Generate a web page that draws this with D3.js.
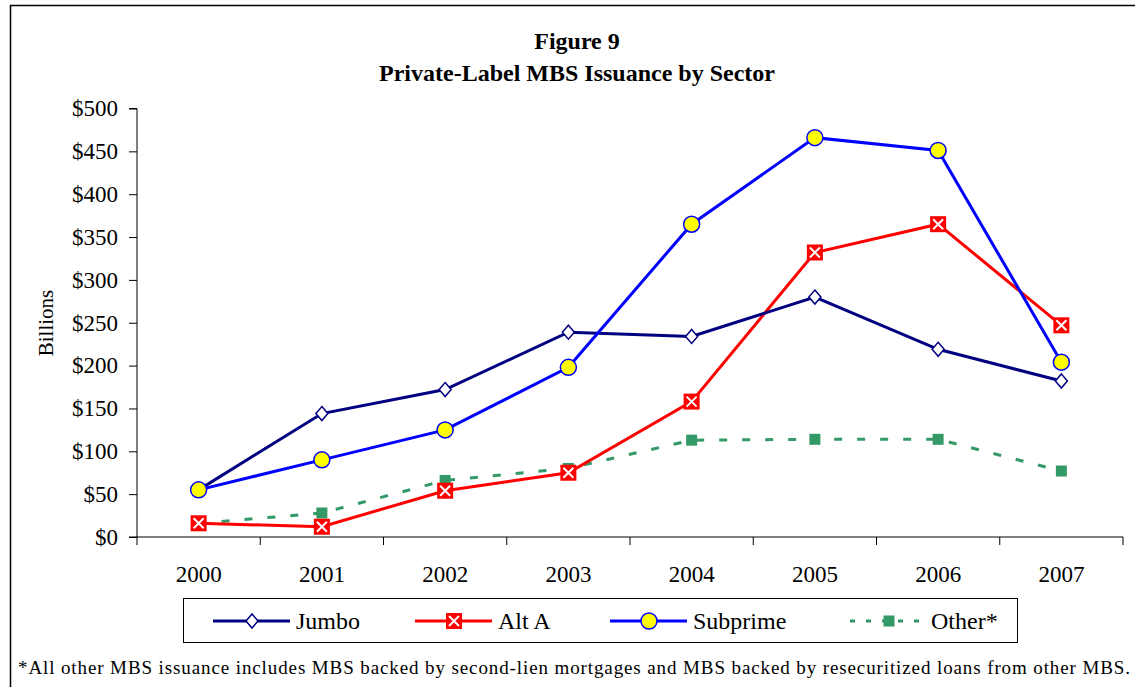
<!DOCTYPE html>
<html>
<head>
<meta charset="utf-8">
<script src="https://cdn.jsdelivr.net/npm/d3@7"></script>
<style>
  body { margin: 0; background: #fff; }
  svg { display: block; font-family: "Liberation Serif", "Times New Roman", serif; }
</style>
</head>
<body>
<svg width="1135" height="687"></svg>
<script>
var years = ["2000", "2001", "2002", "2003", "2004", "2005", "2006", "2007"];
var jumbo = [55, 144, 172, 239, 234, 280, 219, 182];
var altA = [16, 12, 54, 75, 158, 332, 365, 247];
var subprime = [55, 90, 125, 198, 365, 466, 451, 204];
var other = [16, 28, 66, 80, 113, 114, 114, 77];
var yTicks = [0, 50, 100, 150, 200, 250, 300, 350, 400, 450, 500];

var series = [
    {id: "Jumbo", values: jumbo, color: "#000080", marker: "diamond", dash: null},
    {id: "Alt A", values: altA, color: "#ff0000", marker: "xsquare", dash: null},
    {id: "Subprime", values: subprime, color: "#0000ff", marker: "circle", dash: null},
    {id: "Other*", values: other, color: "#339966", marker: "square", dash: "8,15"}
];

var svg = d3.select("svg");

// outer frame
svg.append("path")
    .attr("d", "M10.5,700 V5.5 H1140")
    .attr("fill", "none")
    .attr("stroke", "#000")
    .attr("stroke-width", 1.5);

var scaleX = d3.scaleBand().domain(years).range([137, 1123]).padding(0),
    scaleY = d3.scaleLinear().domain([0, 500]).range([537, 108.5]);

function cx(i) {
    return scaleX(years[i]) + scaleX.bandwidth() / 2;
}

// title
svg.append("text").attr("x", 577).attr("y", 49).attr("text-anchor", "middle")
    .style("font-weight", "bold").style("font-size", "24px").text("Figure 9");
svg.append("text").attr("x", 577).attr("y", 81).attr("text-anchor", "middle")
    .style("font-weight", "bold").style("font-size", "24px").text("Private-Label MBS Issuance by Sector");

// y axis
var axisY = svg.append("g")
    .attr("transform", "translate(137,0)")
    .call(d3.axisLeft(scaleY).tickValues(yTicks).tickSize(8).tickPadding(11)
        .tickFormat(function (d) { return "$" + d; }));
axisY.selectAll("text").style("font-size", "23px").style("font-family", "Liberation Serif").attr("fill", "#000");
axisY.selectAll("line, path").attr("stroke", "#000");
axisY.select(".domain").attr("d", "M-8,108.5H0V537H-8");

svg.append("text")
    .attr("transform", "translate(53,323) rotate(-90)")
    .attr("text-anchor", "middle")
    .style("font-size", "21px")
    .text("Billions");

// x axis
var axisX = svg.append("g")
    .attr("transform", "translate(0,537)")
    .call(d3.axisBottom(scaleX).tickSize(0).tickPadding(29));
axisX.selectAll("text").style("font-size", "23px").style("font-family", "Liberation Serif").attr("fill", "#000");
axisX.select(".domain").attr("d", "M137,0H1123").attr("stroke", "#000");
var bounds = years.map(function (y) { return scaleX(y); }).concat([scaleX.range()[1]]);
axisX.selectAll(".bound").data(bounds).enter().append("line")
    .attr("class", "bound")
    .attr("x1", function (d) { return d; }).attr("x2", function (d) { return d; })
    .attr("y1", 0).attr("y2", 8)
    .attr("stroke", "#000");

// markers
function drawMarker(g, type, color) {
    if (type === "diamond") {
        g.append("path").attr("d", "M0,-7L6,0L0,7L-6,0Z")
            .attr("fill", "#fff").attr("stroke", color).attr("stroke-width", 1.5);
    } else if (type === "xsquare") {
        g.append("rect").attr("x", -8).attr("y", -8).attr("width", 16).attr("height", 16).attr("fill", color);
        g.append("path").attr("d", "M-5,-5L5,5M5,-5L-5,5").attr("stroke", "#fff").attr("stroke-width", 2);
    } else if (type === "circle") {
        g.append("circle").attr("r", 8).attr("fill", "#ffff00").attr("stroke", color).attr("stroke-width", 1.5);
    } else {
        g.append("rect").attr("x", -5.5).attr("y", -5.5).attr("width", 11).attr("height", 11).attr("fill", color);
    }
}

var line = d3.line()
    .x(function (d, i) { return cx(i); })
    .y(function (d) { return scaleY(d); });

var plot = svg.append("g");
// draw order: other, altA, jumbo, subprime
[3, 1, 0, 2].forEach(function (k) {
    var s = series[k];
    var g = plot.append("g");
    g.append("path")
        .attr("d", line(s.values))
        .attr("fill", "none")
        .attr("stroke", s.color)
        .attr("stroke-width", 3)
        .attr("stroke-dasharray", s.dash);
    s.values.forEach(function (v, i) {
        var m = g.append("g").attr("transform", "translate(" + cx(i) + "," + scaleY(v) + ")");
        drawMarker(m, s.marker, s.color);
    });
});

// legend
svg.append("rect")
    .attr("x", 183.5).attr("y", 598.5).attr("width", 834).attr("height", 44)
    .attr("fill", "#fff").attr("stroke", "#000").attr("stroke-width", 1);
var legendX = [213, 415, 610, 850];
series.forEach(function (s, i) {
    var g = svg.append("g").attr("transform", "translate(" + legendX[i] + ",621)");
    g.append("line").attr("x1", 0).attr("x2", 77).attr("y1", 0).attr("y2", 0)
        .attr("stroke", s.color).attr("stroke-width", 3)
        .attr("stroke-dasharray", s.dash ? "5,11" : null);
    drawMarker(g.append("g").attr("transform", "translate(39,0)"), s.marker, s.color);
    g.append("text").attr("x", s.dash ? 81 : 83).attr("y", 8)
        .style("font-size", "24px").text(s.id);
});

// footnote
svg.append("text")
    .attr("x", 18).attr("y", 674)
    .attr("textLength", 1112).attr("lengthAdjust", "spacing")
    .style("font-size", "19px")
    .text("*All other MBS issuance includes MBS backed by second-lien mortgages and MBS backed by resecuritized loans from other MBS.");
</script>
</body>
</html>
